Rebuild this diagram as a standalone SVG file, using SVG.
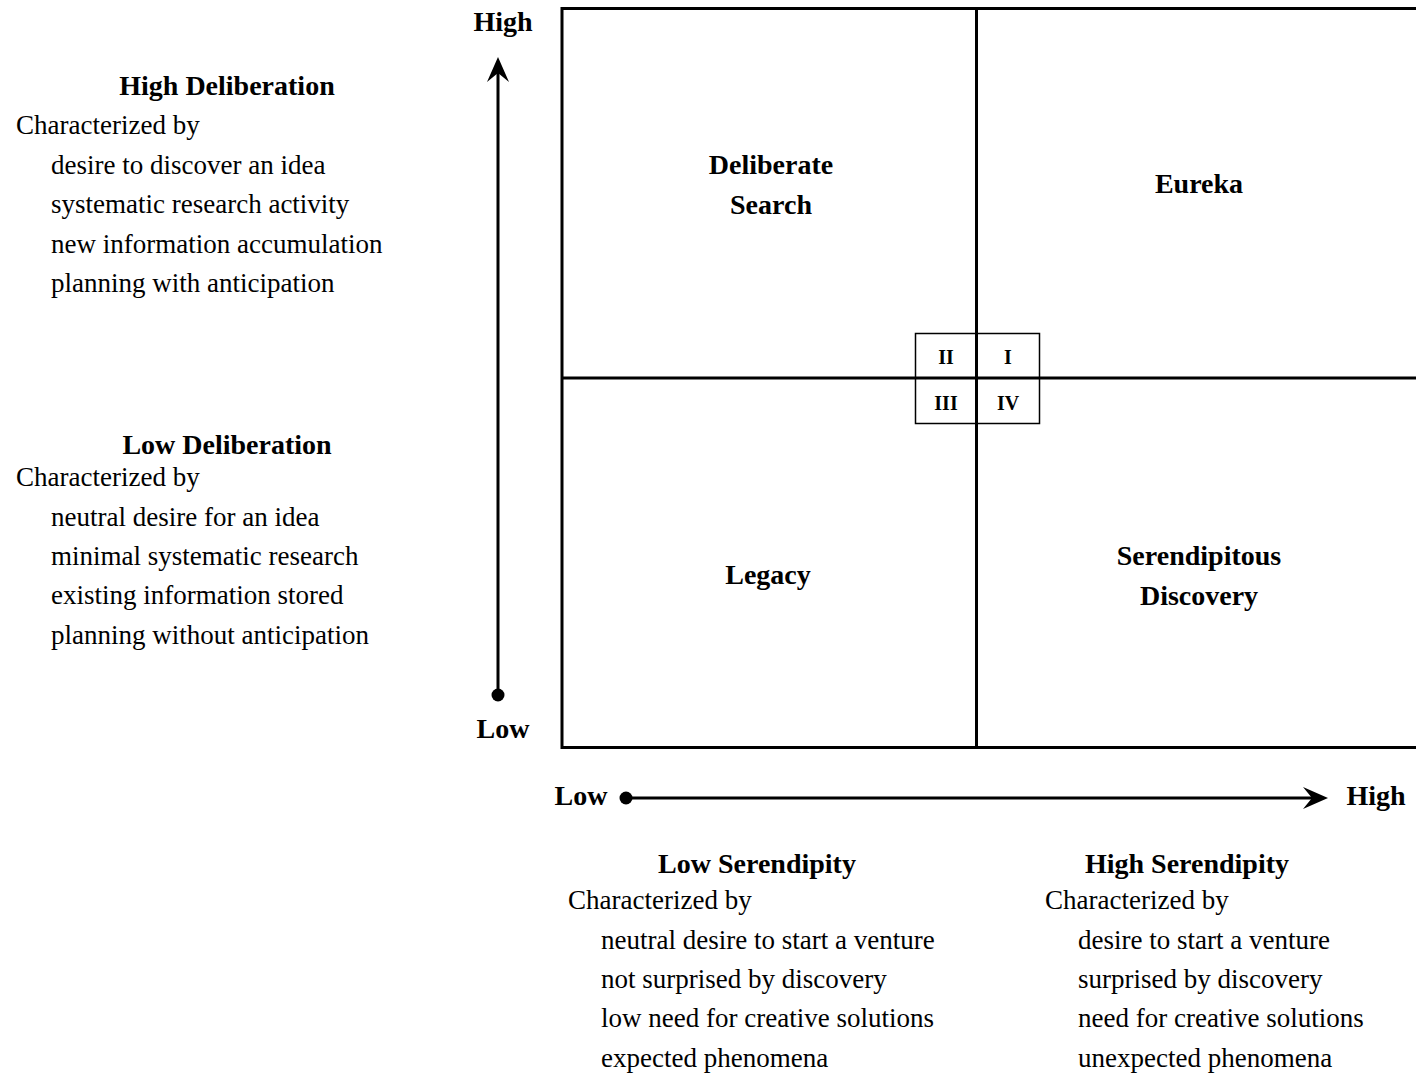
<svg xmlns="http://www.w3.org/2000/svg" width="1416" height="1075" viewBox="0 0 1416 1075">
<style>
text{font-family:"Liberation Serif","Times New Roman",serif;fill:#000}
.h{font-size:28px;font-weight:bold}
.b{font-size:27px}
.q{font-size:28px;font-weight:bold;text-anchor:middle}
.r{font-size:20px;font-weight:bold;text-anchor:middle}
.c{text-anchor:middle}
.ln{stroke:#000;fill:none}
</style>
<rect width="1416" height="1075" fill="#fff"/>
<g id="grid">
<rect x="562" y="8.5" width="856" height="739" class="ln" stroke-width="3"/>
<line x1="976.5" y1="8" x2="976.5" y2="748" class="ln" stroke-width="3"/>
<line x1="562" y1="378" x2="1416" y2="378" class="ln" stroke-width="3"/>
</g>
<g id="quadrant-box">
<rect x="915.5" y="333.5" width="124" height="90" class="ln" stroke-width="1.5"/>
<text x="946" y="364" class="r">II</text>
<text x="1008" y="364" class="r">I</text>
<text x="946" y="410" class="r">III</text>
<text x="1008" y="410" class="r">IV</text>
</g>
<g id="q-deliberate"><text x="771" y="174" class="q">Deliberate</text><text x="771" y="214" class="q">Search</text></g>
<g id="q-eureka"><text x="1199" y="193" class="q">Eureka</text></g>
<g id="q-legacy"><text x="768" y="584" class="q">Legacy</text></g>
<g id="q-serendipitous"><text x="1199" y="565" class="q">Serendipitous</text><text x="1199" y="605" class="q">Discovery</text></g>
<g id="connectors">
<line x1="498" y1="695" x2="498" y2="68" class="ln" stroke-width="3"/>
<circle cx="498" cy="695" r="6.5"/>
<path d="M498,57 L509,82 L498,73 L487,82 Z"/>
<line x1="626" y1="798" x2="1318" y2="798" class="ln" stroke-width="3"/>
<circle cx="626" cy="798" r="6.5"/>
<path d="M1328,798 L1303,787 L1312,798 L1303,809 Z"/>
</g>
<g id="axis-labels">
<text x="503" y="31" class="h c">High</text>
<text x="503" y="738" class="h c">Low</text>
<text x="581" y="805" class="h c">Low</text>
<text x="1376" y="805" class="h c">High</text>
</g>
<g id="high-deliberation">
<text x="227" y="95" class="h c">High Deliberation</text>
<text x="16" y="134" class="b">Characterized by</text>
<text x="51" y="174" class="b">desire to discover an idea</text>
<text x="51" y="213" class="b">systematic research activity</text>
<text x="51" y="253" class="b">new information accumulation</text>
<text x="51" y="292" class="b">planning with anticipation</text>
</g>
<g id="low-deliberation">
<text x="227" y="454" class="h c">Low Deliberation</text>
<text x="16" y="486" class="b">Characterized by</text>
<text x="51" y="526" class="b">neutral desire for an idea</text>
<text x="51" y="565" class="b">minimal systematic research</text>
<text x="51" y="604" class="b">existing information stored</text>
<text x="51" y="644" class="b">planning without anticipation</text>
</g>
<g id="low-serendipity">
<text x="757" y="873" class="h c">Low Serendipity</text>
<text x="568" y="909" class="b">Characterized by</text>
<text x="601" y="949" class="b">neutral desire to start a venture</text>
<text x="601" y="988" class="b">not surprised by discovery</text>
<text x="601" y="1027" class="b">low need for creative solutions</text>
<text x="601" y="1067" class="b">expected phenomena</text>
</g>
<g id="high-serendipity">
<text x="1187" y="873" class="h c">High Serendipity</text>
<text x="1045" y="909" class="b">Characterized by</text>
<text x="1078" y="949" class="b">desire to start a venture</text>
<text x="1078" y="988" class="b">surprised by discovery</text>
<text x="1078" y="1027" class="b">need for creative solutions</text>
<text x="1078" y="1067" class="b">unexpected phenomena</text>
</g>
</svg>
